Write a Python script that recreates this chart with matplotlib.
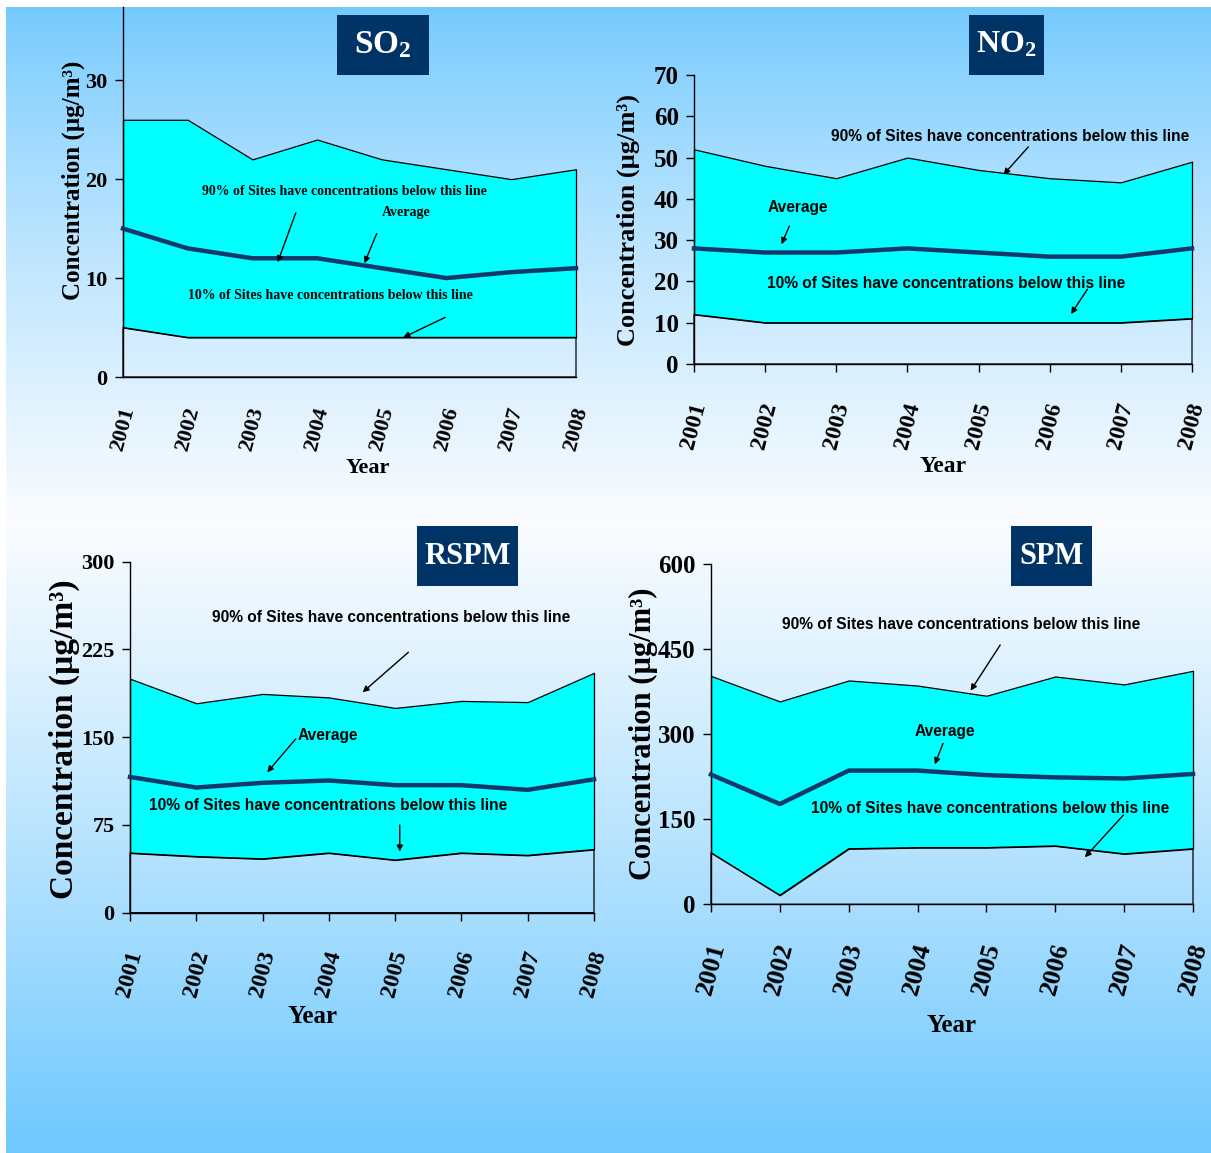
import numpy as np
import matplotlib
matplotlib.use("Agg")
import matplotlib.pyplot as plt
from matplotlib.patches import Rectangle

plt.rcParams["font.family"] = ["Liberation Serif", "DejaVu Serif"]
plt.rcParams["font.weight"] = "bold"
plt.rcParams["mathtext.default"] = "regular"

# ---------------- data ----------------
years = [2001, 2002, 2003, 2004, 2005, 2006, 2007, 2008]
year_labels = ["2001", "2002", "2003", "2004", "2005", "2006", "2007", "2008"]

so2_p90 = [26, 26, 22, 24, 22, 21, 20, 21]
so2_avg = [15, 13, 12, 12, 11, 10, 10.6, 11]
so2_p10 = [5, 4, 4, 4, 4, 4, 4, 4]
so2_ticks = [0, 10, 20, 30]

no2_p90 = [52, 48, 45, 50, 47, 45, 44, 49]
no2_avg = [28, 27, 27, 28, 27, 26, 26, 28]
no2_p10 = [12, 10, 10, 10, 10, 10, 10, 11]
no2_ticks = [0, 10, 20, 30, 40, 50, 60, 70]

rspm_p90 = [200, 179, 187, 184, 175, 181, 180, 205]
rspm_avg = [116, 107, 111, 113, 109, 109, 105, 114]
rspm_p10 = [51, 48, 46, 51, 45, 51, 49, 54]
rspm_ticks = [0, 75, 150, 225, 300]

spm_p90 = [403, 358, 395, 386, 368, 402, 388, 412]
spm_avg = [229, 177, 236, 236, 228, 224, 222, 230]
spm_p10 = [91, 16, 98, 100, 100, 103, 89, 98]
spm_ticks = [0, 150, 300, 450, 600]

TXT90 = "90% of Sites have concentrations below this line"
TXT10 = "10% of Sites have concentrations below this line"
YLAB = "Concentration (\u00b5g/m\u00b3)"

W, H = 1211, 1153
CYAN = "#00ffff"
NAVY = "#13396c"
BOX = "#003366"
NARROW = ["Liberation Sans Narrow", "Liberation Sans", "DejaVu Sans"]

fig = plt.figure(figsize=(W / 100, H / 100), dpi=100)


def px_rect(left, top, right, bottom):
    return [left / W, 1 - bottom / H, (right - left) / W, (bottom - top) / H]


# background gradient (blue -> white -> blue) with white border at top/left
bg = fig.add_axes(px_rect(6, 7, W, H), zorder=-10)
rows = np.arange(7, H)
top_c = np.array([0x72, 0xc9, 0xfe]) / 255
white = np.array([0xfa, 0xfc, 0xff]) / 255
bot_c = np.array([0x6e, 0xc8, 0xfe]) / 255
grad = np.zeros((len(rows), 1, 3))
for i, r in enumerate(rows):
    if r < 520:
        t = ((r - 7) / (520 - 7)) ** 0.8
        grad[i, 0] = top_c + (white - top_c) * t
    else:
        t = ((r - 520) / (H - 520)) ** 1.1
        grad[i, 0] = white + (bot_c - white) * t
bg.imshow(grad, aspect="auto", extent=[0, 1, 0, 1])
bg.axis("off")


def draw_panel(rect, p90, avg, p10, ticks, ylim, tick_fs, xtick_fs, xticks_on):
    ax = fig.add_axes(px_rect(*rect))
    ax.patch.set_alpha(0)
    ax.fill_between(years, p10, p90, facecolor=CYAN, edgecolor="black",
                    linewidth=0.9, zorder=2, clip_on=False)
    ax.fill_between(years, 0, p10, facecolor="none", edgecolor="black",
                    linewidth=0.9, zorder=2, clip_on=False)
    ax.plot(years, avg, color=NAVY, linewidth=3.2, zorder=3, clip_on=False)
    ax.set_xlim(years[0], years[-1])
    ax.set_ylim(0, ylim)
    ax.set_yticks(ticks)
    ax.set_yticklabels([str(t) for t in ticks], fontsize=tick_fs, fontweight="bold")
    ax.set_xticks(years)
    ax.set_xticklabels(year_labels, fontsize=xtick_fs, fontweight="bold",
                       rotation=75, ha="center", va="top")
    for s in ["top", "right"]:
        ax.spines[s].set_visible(False)
    for s in ["left", "bottom"]:
        ax.spines[s].set_linewidth(1.0)
    ax.tick_params(axis="y", direction="out", length=6, width=1, pad=5)
    ax.tick_params(axis="x", direction="out", length=6 if xticks_on else 0,
                   width=1, pad=20)
    return ax


def title_box(left, top, right, bottom, label, fs):
    fig.patches.append(Rectangle((left / W, 1 - bottom / H), (right - left) / W,
                                 (bottom - top) / H, transform=fig.transFigure,
                                 facecolor=BOX, edgecolor="none", zorder=5))
    fig.text((left + right) / 2 / W, 1 - (top + bottom) / 2 / H, label,
             color="white", fontsize=fs, fontweight="bold",
             ha="center", va="center", zorder=6)


def note(ax, text, xy, fs, family, ha="left"):
    ax.text(xy[0], xy[1], text, fontsize=fs, fontweight="bold", family=family,
            ha=ha, va="center", zorder=6, clip_on=False)


def arrow(ax, start, end):
    ax.annotate("", xy=end, xytext=start,
                arrowprops=dict(arrowstyle="-|>", color="black", lw=1,
                                mutation_scale=9, shrinkA=0, shrinkB=0),
                zorder=6, annotation_clip=False)


# ---------------- SO2 ----------------
ax1 = draw_panel((123, 7, 576, 377), so2_p90, so2_avg, so2_p10, so2_ticks,
                 37.4, 16, 16, False)
ax1.set_ylabel(YLAB, fontsize=18, fontweight="bold", va="center")
ax1.yaxis.set_label_coords(-0.110, 0.532)
ax1.set_xlabel("Year", fontsize=16, fontweight="bold", va="center")
ax1.xaxis.set_label_coords(0.541, -0.246)
note(ax1, TXT90, (2002.22, 18.8), 10, ["Liberation Serif"])
note(ax1, "Average", (2005.37, 16.6), 10, ["Liberation Serif"], ha="center")
note(ax1, TXT10, (2002.0, 8.28), 10, ["Liberation Serif"])
arrow(ax1, (2003.67, 16.6), (2003.39, 11.6))
arrow(ax1, (2004.92, 14.5), (2004.73, 11.5))
arrow(ax1, (2005.98, 6.03), (2005.33, 4.0))
title_box(337, 15, 429, 75, "SO$_2$", 24)

# ---------------- NO2 ----------------
ax2 = draw_panel((694, 75, 1192, 364), no2_p90, no2_avg, no2_p10, no2_ticks,
                 70, 18, 17, True)
ax2.set_ylabel(YLAB, fontsize=19, fontweight="bold", va="center")
ax2.yaxis.set_label_coords(-0.131, 0.498)
ax2.set_xlabel("Year", fontsize=17, fontweight="bold", va="center")
ax2.xaxis.set_label_coords(0.5, -0.356)
note(ax2, TXT90, (2002.93, 55.05), 11.2, NARROW)
note(ax2, "Average", (2002.03, 37.95), 11.2, NARROW)
note(ax2, TXT10, (2002.03, 19.5), 11.2, NARROW)
arrow(ax2, (2005.70, 52.6), (2005.35, 45.85))
arrow(ax2, (2002.34, 33.4), (2002.23, 29.0))
arrow(ax2, (2006.53, 18.1), (2006.30, 12.1))
title_box(969, 15, 1044, 75, "NO$_2$", 23)

# ---------------- RSPM ----------------
ax3 = draw_panel((130, 561.7, 594, 912.7), rspm_p90, rspm_avg, rspm_p10,
                 rspm_ticks, 300, 16, 17, True)
ax3.set_ylabel(YLAB, fontsize=24, fontweight="bold", va="center")
ax3.yaxis.set_label_coords(-0.141, 0.495)
ax3.set_xlabel("Year", fontsize=18, fontweight="bold", va="center")
ax3.xaxis.set_label_coords(0.394, -0.296)
note(ax3, TXT90, (2002.24, 252), 11.2, NARROW)
note(ax3, "Average", (2003.53, 151.3), 11.2, NARROW)
note(ax3, TXT10, (2001.28, 91.2), 11.2, NARROW)
arrow(ax3, (2005.20, 222.6), (2004.51, 188.4))
arrow(ax3, (2003.50, 148.5), (2003.07, 120))
arrow(ax3, (2005.07, 75), (2005.07, 52.2))
title_box(417, 526, 518, 586, "RSPM", 22)

# ---------------- SPM ----------------
ax4 = draw_panel((711, 564.3, 1193, 904.3), spm_p90, spm_avg, spm_p10,
                 spm_ticks, 600, 18, 19, True)
ax4.set_ylabel(YLAB, fontsize=22, fontweight="bold", va="center")
ax4.yaxis.set_label_coords(-0.140, 0.501)
ax4.set_xlabel("Year", fontsize=18, fontweight="bold", va="center")
ax4.xaxis.set_label_coords(0.499, -0.355)
note(ax4, TXT90, (2002.03, 494), 11.2, NARROW)
note(ax4, "Average", (2003.96, 305.8), 11.2, NARROW)
note(ax4, TXT10, (2002.45, 169.4), 11.2, NARROW)
arrow(ax4, (2005.20, 457.6), (2004.77, 377))
arrow(ax4, (2004.37, 284), (2004.25, 247))
arrow(ax4, (2006.99, 157.6), (2006.43, 83))
title_box(1011, 526, 1092, 586, "SPM", 22)

fig.savefig("out.png", dpi=100)
